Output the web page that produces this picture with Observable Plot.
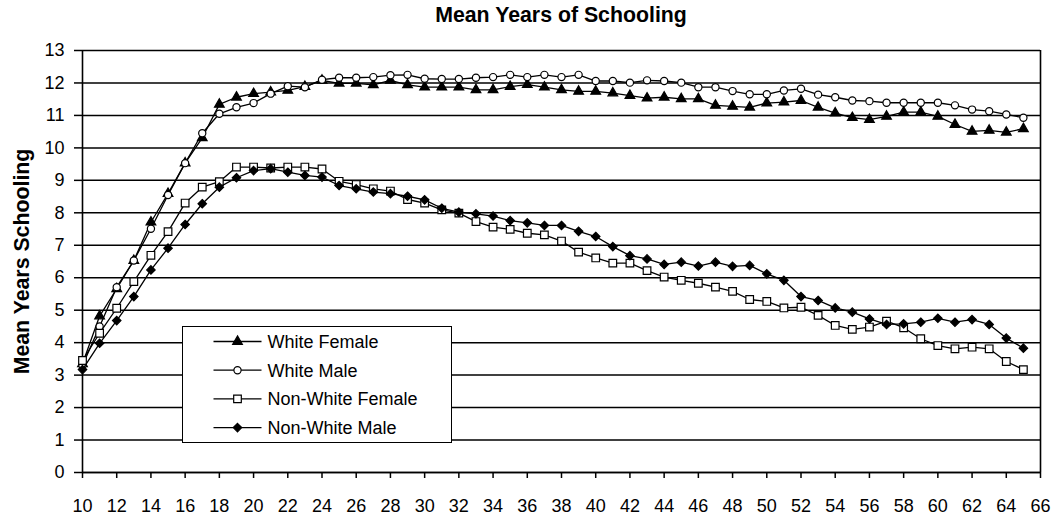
<!DOCTYPE html>
<html>
<head>
<meta charset="utf-8">
<script src="https://cdn.jsdelivr.net/npm/d3@7"></script>
<script src="https://cdn.jsdelivr.net/npm/@observablehq/plot@0.6"></script>
<style>
  body { margin: 0; background: white; font-family: "Liberation Sans", Arial, sans-serif; }
  #wrap { position: relative; width: 1062px; height: 520px; }
  #title { position: absolute; left: 82px; top: 0; width: 958px; height: 30px; line-height: 30px;
           text-align: center; font-weight: bold; font-size: 21.3px; color: black; }
  #chart { position: absolute; left: 0; top: 30px; }
  #legend { position: absolute; left: 182px; top: 326px; width: 270px; height: 117px;
            box-sizing: border-box; border: 1.5px solid black; background: white; }
</style>
</head>
<body>
<div id="wrap">
  <div id="title">Mean Years of Schooling</div>
  <div id="chart"></div>
  <div id="legend"></div>
</div>
<script>
// Age in years
const ages = [10, 11, 12, 13, 14, 15, 16, 17, 18, 19, 20, 21, 22, 23, 24, 25, 26, 27, 28, 29,
  30, 31, 32, 33, 34, 35, 36, 37, 38, 39, 40, 41, 42, 43, 44, 45, 46, 47, 48, 49,
  50, 51, 52, 53, 54, 55, 56, 57, 58, 59, 60, 61, 62, 63, 64, 65];

// Mean years of schooling by age, one list per group
const whiteFemale = [3.35, 4.82, 5.66, 6.53, 7.71, 8.59, 9.53, 10.31, 11.34, 11.56,
  11.67, 11.72, 11.77, 11.89, 12.08, 11.99, 11.99, 11.94, 12.08, 11.94,
  11.87, 11.87, 11.87, 11.79, 11.79, 11.89, 11.95, 11.87, 11.79, 11.74,
  11.74, 11.69, 11.61, 11.53, 11.56, 11.51, 11.51, 11.31, 11.28, 11.25,
  11.38, 11.41, 11.46, 11.25, 11.07, 10.93, 10.87, 10.97, 11.10, 11.10,
  10.97, 10.72, 10.51, 10.54, 10.48, 10.59];

const whiteMale = [3.3, 4.5, 5.71, 6.53, 7.51, 8.55, 9.53, 10.45, 11.05, 11.25,
  11.38, 11.67, 11.90, 11.87, 12.10, 12.16, 12.16, 12.18, 12.24, 12.25,
  12.13, 12.12, 12.12, 12.16, 12.18, 12.25, 12.18, 12.25, 12.18, 12.25,
  12.06, 12.06, 12.01, 12.08, 12.06, 12.01, 11.87, 11.87, 11.75, 11.65,
  11.65, 11.77, 11.82, 11.64, 11.56, 11.46, 11.44, 11.39, 11.39, 11.39,
  11.39, 11.31, 11.18, 11.13, 11.03, 10.93];

const nonWhiteFemale = [3.45, 4.29, 5.06, 5.88, 6.69, 7.42, 8.30, 8.79, 8.96, 9.41,
  9.41, 9.38, 9.41, 9.41, 9.35, 8.97, 8.87, 8.74, 8.67, 8.41,
  8.30, 8.09, 7.99, 7.73, 7.56, 7.49, 7.37, 7.32, 7.13, 6.79,
  6.61, 6.45, 6.45, 6.22, 6.02, 5.92, 5.83, 5.71, 5.58, 5.33,
  5.27, 5.07, 5.09, 4.84, 4.53, 4.41, 4.48, 4.66, 4.46, 4.12,
  3.91, 3.81, 3.86, 3.81, 3.42, 3.17];

const nonWhiteMale = [3.17, 3.98, 4.68, 5.42, 6.24, 6.91, 7.64, 8.28, 8.79, 9.08,
  9.30, 9.36, 9.25, 9.15, 9.10, 8.84, 8.74, 8.64, 8.59, 8.51,
  8.40, 8.14, 8.02, 7.97, 7.90, 7.76, 7.69, 7.61, 7.61, 7.43,
  7.27, 6.96, 6.68, 6.58, 6.41, 6.48, 6.36, 6.48, 6.35, 6.38,
  6.12, 5.92, 5.42, 5.30, 5.07, 4.94, 4.73, 4.56, 4.58, 4.63,
  4.75, 4.63, 4.71, 4.56, 4.14, 3.83];

const seriesNames = ["White Female", "White Male", "Non-White Female", "Non-White Male"];
const xTicks = [10, 12, 14, 16, 18, 20, 22, 24, 26, 28, 30, 32, 34, 36, 38, 40, 42, 44, 46, 48,
  50, 52, 54, 56, 58, 60, 62, 64, 66];
const yTicks = [0, 1, 2, 3, 4, 5, 6, 7, 8, 9, 10, 11, 12, 13];

// Marker style for each group
const series = [
  {name: seriesNames[0], values: whiteFemale, symbol: "triangle", d3symbol: d3.symbolTriangle, fill: "black", r: 3.6},
  {name: seriesNames[1], values: whiteMale, symbol: "circle", d3symbol: d3.symbolCircle, fill: "white", r: 3.6},
  {name: seriesNames[2], values: nonWhiteFemale, symbol: "square", d3symbol: d3.symbolSquare, fill: "white", r: 4.3},
  {name: seriesNames[3], values: nonWhiteMale, symbol: "diamond2", d3symbol: d3.symbolDiamond2, fill: "black", r: 3.8}
];

const tables = series.map(s => ages.map((age, i) => ({age, value: s.values[i], series: s.name})));

const font = "'Liberation Sans', Arial, sans-serif";

const marks = [
  Plot.gridY(yTicks, {stroke: "black", strokeOpacity: 1, strokeWidth: 1.5}),
  Plot.ruleX([10], {stroke: "black", strokeWidth: 1.6}),
  Plot.ruleX([66], {stroke: "black", strokeWidth: 1.6}),
  Plot.ruleY([0], {stroke: "black", strokeWidth: 1.6}),
  Plot.axisY(yTicks, {tickSize: 8, tickPadding: 10, fontSize: 18, label: null, stroke: "black", strokeWidth: 1.5, tickFormat: d => String(d)}),
  Plot.axisX(xTicks, {tickSize: 6, tickPadding: 21, fontSize: 18, label: null, stroke: "black", strokeWidth: 1.5, tickFormat: d => String(d)}),
  Plot.text(["Mean Years Schooling"], {frameAnchor: "left", textAnchor: "middle", dx: -60, rotate: -90, fontSize: 21.3, fontWeight: "bold", fill: "black"})
];

series.forEach((s, k) => {
  marks.push(Plot.line(tables[k], {x: "age", y: "value", stroke: "black", strokeWidth: 1.3}));
  marks.push(Plot.dot(tables[k], {x: "age", y: "value", symbol: () => s.symbol, fill: s.fill, stroke: "black", strokeWidth: 1.2, r: s.r}));
});

const chart = Plot.plot({
  width: 1062,
  height: 490,
  marginLeft: 82,
  marginRight: 22,
  marginTop: 20,
  marginBottom: 48,
  style: {fontFamily: font, fontSize: "18px", color: "black", background: "white"},
  x: {domain: [10, 66]},
  y: {domain: [0, 13]},
  symbol: {type: "identity"},
  marks
});
document.getElementById("chart").appendChild(chart);

// Legend: line sample with marker, then the group name
const lg = d3.select("#legend").append("svg").attr("width", 267).attr("height", 114)
  .style("display", "block").style("font-family", font);
series.forEach((s, i) => {
  const y = 14.5 + i * 28.7;
  const g = lg.append("g").attr("transform", `translate(0,${y})`);
  g.append("line").attr("x1", 30.5).attr("x2", 78.5).attr("y1", 0).attr("y2", 0)
    .attr("stroke", "black").attr("stroke-width", 1.3);
  g.append("path").attr("transform", "translate(54.5,0)")
    .attr("d", d3.symbol(s.d3symbol, s.r * s.r * Math.PI)())
    .attr("fill", s.fill).attr("stroke", "black").attr("stroke-width", 1.2);
  g.append("text").attr("x", 84.5).attr("y", 0).attr("dy", "0.35em")
    .attr("font-size", 18).attr("fill", "black").text(s.name);
});
</script>
</body>
</html>
